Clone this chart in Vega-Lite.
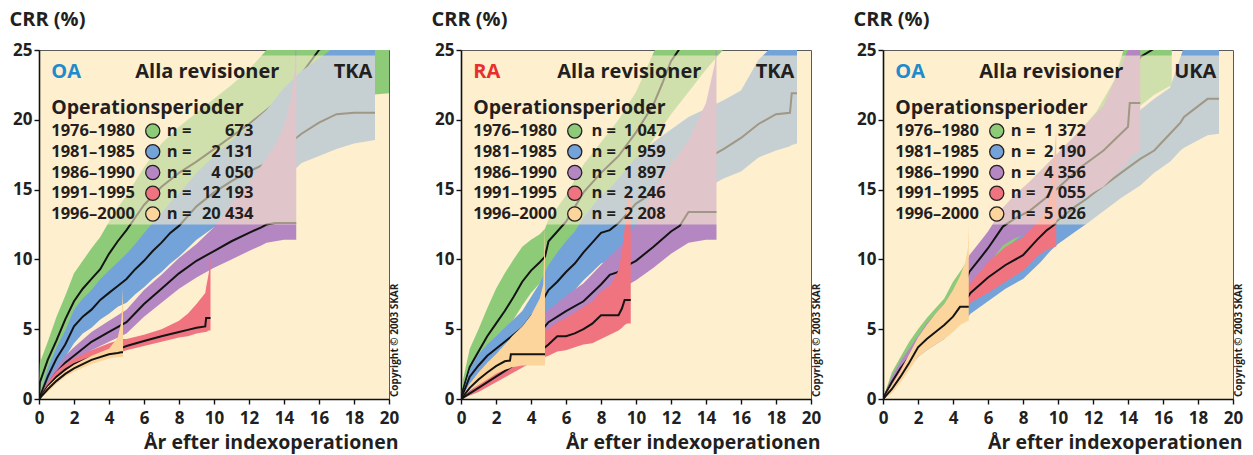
{
"$schema":"https://vega.github.io/schema/vega-lite/v6.json",
"background":"white",
"padding":{"left":8,"top":8,"right":4,"bottom":3},
"spacing":29,
"config":{
 "font":"Open Sans",
 "view":{"stroke":"#5a5a5a","strokeWidth":1,"fill":"#FEEFCF"},
 "axis":{"grid":false,"domainColor":"#111","domainWidth":1.6,"tickColor":"#111","tickWidth":1.4,"tickSize":5,"labelFont":"Open Sans","labelFontSize":17,"labelFontWeight":"bold","labelColor":"#231F20","labelFlush":false,"titleFont":"Open Sans","titleFontSize":19.5,"titleFontWeight":"bold","titleColor":"#231F20"},
 "axisX":{"labelPadding":6,"titleAlign":"right","titleBaseline":"middle","titleX":359,"titleY":43,"titleAngle":0},
 "axisY":{"labelPadding":2,"titleAngle":0,"titleAlign":"left","titleBaseline":"middle","titleX":-30,"titleY":-31,"titleFontSize":20}
},
"datasets":{
"leg":[
{"p":1,"s":"1976–1980","n":"673"},{"p":1,"s":"1981–1985","n":"2 131"},{"p":1,"s":"1986–1990","n":"4 050"},{"p":1,"s":"1991–1995","n":"12 193"},{"p":1,"s":"1996–2000","n":"20 434"},
{"p":2,"s":"1976–1980","n":"1 047"},{"p":2,"s":"1981–1985","n":"1 959"},{"p":2,"s":"1986–1990","n":"1 897"},{"p":2,"s":"1991–1995","n":"2 246"},{"p":2,"s":"1996–2000","n":"2 208"},
{"p":3,"s":"1976–1980","n":"1 372"},{"p":3,"s":"1981–1985","n":"2 190"},{"p":3,"s":"1986–1990","n":"4 356"},{"p":3,"s":"1991–1995","n":"7 055"},{"p":3,"s":"1996–2000","n":"5 026"}
],
"d":[
{"p":1,"s":"G","x":0,"lo":0,"y":0,"hi":0},{"p":1,"s":"G","x":0.05,"lo":0.3,"y":1.2,"hi":2.6},{"p":1,"s":"G","x":0.5,"lo":1.3,"y":2.8,"hi":4.1},{"p":1,"s":"G","x":1,"lo":2.5,"y":4.2,"hi":5.9},{"p":1,"s":"G","x":1.5,"lo":3.8,"y":5.7,"hi":7.4},{"p":1,"s":"G","x":2,"lo":4.8,"y":7.0,"hi":9.0},{"p":1,"s":"G","x":2.5,"lo":5.6,"y":7.9,"hi":9.9},{"p":1,"s":"G","x":3,"lo":6.3,"y":8.6,"hi":10.8},{"p":1,"s":"G","x":3.5,"lo":7.0,"y":9.3,"hi":11.6},{"p":1,"s":"G","x":4,"lo":7.9,"y":10.4,"hi":12.7},{"p":1,"s":"G","x":4.5,"lo":8.7,"y":11.3,"hi":13.7},{"p":1,"s":"G","x":5,"lo":9.4,"y":12.1,"hi":14.6},{"p":1,"s":"G","x":5.5,"lo":10.2,"y":13.0,"hi":15.6},{"p":1,"s":"G","x":6,"lo":11.0,"y":13.9,"hi":16.6},{"p":1,"s":"G","x":7,"lo":12.2,"y":15.2,"hi":18.3},{"p":1,"s":"G","x":8,"lo":13.2,"y":16.2,"hi":19.5},{"p":1,"s":"G","x":9,"lo":14.0,"y":17.0,"hi":20.5},{"p":1,"s":"G","x":10,"lo":14.7,"y":17.9,"hi":21.5},{"p":1,"s":"G","x":11,"lo":15.4,"y":18.8,"hi":22.5},{"p":1,"s":"G","x":12,"lo":16.0,"y":19.7,"hi":23.6},{"p":1,"s":"G","x":13,"lo":16.8,"y":20.7,"hi":25.0},{"p":1,"s":"G","x":14,"lo":17.6,"y":21.8,"hi":26.5},{"p":1,"s":"G","x":15,"lo":18.8,"y":23.3,"hi":28},{"p":1,"s":"G","x":16,"lo":20.3,"y":25.0,"hi":30},{"p":1,"s":"G","x":17,"lo":21.0,"y":25.8,"hi":31},{"p":1,"s":"G","x":18,"lo":21.5,"y":26.3,"hi":31},{"p":1,"s":"G","x":19,"lo":21.8,"y":26.8,"hi":32},{"p":1,"s":"G","x":20,"lo":21.9,"y":27.2,"hi":32},
{"p":1,"s":"B","x":0,"lo":0,"y":0,"hi":0},{"p":1,"s":"B","x":0.5,"lo":1.0,"y":1.6,"hi":2.2},{"p":1,"s":"B","x":1,"lo":2.1,"y":2.9,"hi":3.7},{"p":1,"s":"B","x":1.5,"lo":3.0,"y":3.9,"hi":4.9},{"p":1,"s":"B","x":2,"lo":4.0,"y":5.2,"hi":6.4},{"p":1,"s":"B","x":2.5,"lo":4.7,"y":5.9,"hi":7.2},{"p":1,"s":"B","x":3,"lo":5.1,"y":6.4,"hi":7.8},{"p":1,"s":"B","x":3.5,"lo":5.7,"y":7.1,"hi":8.6},{"p":1,"s":"B","x":4,"lo":6.1,"y":7.6,"hi":9.2},{"p":1,"s":"B","x":4.5,"lo":6.6,"y":8.1,"hi":9.8},{"p":1,"s":"B","x":5,"lo":6.9,"y":8.6,"hi":10.4},{"p":1,"s":"B","x":5.5,"lo":7.5,"y":9.3,"hi":11.1},{"p":1,"s":"B","x":6,"lo":8.0,"y":9.9,"hi":11.9},{"p":1,"s":"B","x":6.5,"lo":8.6,"y":10.6,"hi":12.6},{"p":1,"s":"B","x":7,"lo":9.1,"y":11.2,"hi":13.3},{"p":1,"s":"B","x":7.5,"lo":9.7,"y":11.9,"hi":14.1},{"p":1,"s":"B","x":8,"lo":10.2,"y":12.4,"hi":14.7},{"p":1,"s":"B","x":9,"lo":11.4,"y":13.8,"hi":16.2},{"p":1,"s":"B","x":10,"lo":12.3,"y":14.8,"hi":17.4},{"p":1,"s":"B","x":11,"lo":13.0,"y":15.6,"hi":18.5},{"p":1,"s":"B","x":12,"lo":13.7,"y":16.3,"hi":19.6},{"p":1,"s":"B","x":13,"lo":14.6,"y":16.9,"hi":20.7},{"p":1,"s":"B","x":14,"lo":15.7,"y":18.0,"hi":22.3},{"p":1,"s":"B","x":15,"lo":16.9,"y":19.0,"hi":23.5},{"p":1,"s":"B","x":16,"lo":17.4,"y":19.8,"hi":24.4},{"p":1,"s":"B","x":17,"lo":17.9,"y":20.4,"hi":25.3},{"p":1,"s":"B","x":18,"lo":18.3,"y":20.5,"hi":25.8},{"p":1,"s":"B","x":19.2,"lo":18.55,"y":20.5,"hi":26},
{"p":1,"s":"P","x":0,"lo":0,"y":0,"hi":0},{"p":1,"s":"P","x":0.5,"lo":0.7,"y":1.0,"hi":1.3},{"p":1,"s":"P","x":1,"lo":1.5,"y":1.9,"hi":2.3},{"p":1,"s":"P","x":1.5,"lo":2.1,"y":2.6,"hi":3.1},{"p":1,"s":"P","x":2,"lo":2.6,"y":3.1,"hi":3.7},{"p":1,"s":"P","x":3,"lo":3.5,"y":4.1,"hi":4.8},{"p":1,"s":"P","x":4,"lo":4.1,"y":4.8,"hi":5.6},{"p":1,"s":"P","x":5,"lo":4.7,"y":5.5,"hi":6.4},{"p":1,"s":"P","x":6,"lo":5.9,"y":6.8,"hi":7.8},{"p":1,"s":"P","x":7,"lo":6.9,"y":7.9,"hi":8.9},{"p":1,"s":"P","x":8,"lo":7.9,"y":9.0,"hi":10.1},{"p":1,"s":"P","x":9,"lo":8.7,"y":9.9,"hi":11.1},{"p":1,"s":"P","x":10,"lo":9.4,"y":10.6,"hi":12.3},{"p":1,"s":"P","x":11,"lo":10.0,"y":11.3,"hi":14.0},{"p":1,"s":"P","x":12,"lo":10.6,"y":11.9,"hi":15.5},{"p":1,"s":"P","x":12.7,"lo":11.0,"y":12.3,"hi":16.7},{"p":1,"s":"P","x":13,"lo":11.2,"y":12.5,"hi":17.3},{"p":1,"s":"P","x":13.5,"lo":11.3,"y":12.6,"hi":18.2},{"p":1,"s":"P","x":14,"lo":11.4,"y":12.6,"hi":19.5},{"p":1,"s":"P","x":14.4,"lo":11.4,"y":12.6,"hi":21.5},{"p":1,"s":"P","x":14.6,"lo":11.4,"y":12.6,"hi":23.5},{"p":1,"s":"P","x":14.7,"lo":11.4,"y":12.6,"hi":26},
{"p":1,"s":"R","x":0,"lo":0,"y":0,"hi":0},{"p":1,"s":"R","x":0.5,"lo":0.6,"y":0.9,"hi":1.2},{"p":1,"s":"R","x":1,"lo":1.3,"y":1.6,"hi":2.0},{"p":1,"s":"R","x":1.5,"lo":1.8,"y":2.1,"hi":2.5},{"p":1,"s":"R","x":2,"lo":2.2,"y":2.5,"hi":2.9},{"p":1,"s":"R","x":3,"lo":2.7,"y":3.0,"hi":3.5},{"p":1,"s":"R","x":4,"lo":3.1,"y":3.4,"hi":4.0},{"p":1,"s":"R","x":4.8,"lo":3.4,"y":3.7,"hi":4.3},{"p":1,"s":"R","x":5,"lo":3.5,"y":3.8,"hi":4.3},{"p":1,"s":"R","x":6,"lo":3.8,"y":4.15,"hi":4.6},{"p":1,"s":"R","x":7,"lo":4.1,"y":4.5,"hi":5.0},{"p":1,"s":"R","x":8,"lo":4.4,"y":4.8,"hi":5.6},{"p":1,"s":"R","x":8.5,"lo":4.5,"y":4.95,"hi":6.1},{"p":1,"s":"R","x":9,"lo":4.7,"y":5.1,"hi":6.8},{"p":1,"s":"R","x":9.5,"lo":4.8,"y":5.2,"hi":7.6},{"p":1,"s":"R","x":9.55,"lo":4.8,"y":5.8,"hi":8.0},{"p":1,"s":"R","x":9.7,"lo":4.9,"y":5.8,"hi":9.0},{"p":1,"s":"R","x":9.8,"lo":4.9,"y":5.8,"hi":10.2},
{"p":1,"s":"O","x":0,"lo":0,"y":0,"hi":0},{"p":1,"s":"O","x":0.5,"lo":0.5,"y":0.7,"hi":0.9},{"p":1,"s":"O","x":1,"lo":1.1,"y":1.3,"hi":1.5},{"p":1,"s":"O","x":1.5,"lo":1.6,"y":1.8,"hi":2.0},{"p":1,"s":"O","x":2,"lo":1.95,"y":2.2,"hi":2.45},{"p":1,"s":"O","x":3,"lo":2.5,"y":2.8,"hi":3.1},{"p":1,"s":"O","x":4,"lo":2.9,"y":3.2,"hi":3.6},{"p":1,"s":"O","x":4.5,"lo":3.0,"y":3.3,"hi":4.4},{"p":1,"s":"O","x":4.7,"lo":3.0,"y":3.35,"hi":5.5},{"p":1,"s":"O","x":4.8,"lo":3.0,"y":3.35,"hi":7.9},
{"p":2,"s":"G","x":0,"lo":0,"y":0,"hi":0},{"p":2,"s":"G","x":0.1,"lo":0.1,"y":0.6,"hi":1.3},{"p":2,"s":"G","x":0.5,"lo":1.2,"y":2.3,"hi":3.6},{"p":2,"s":"G","x":1,"lo":2.2,"y":3.4,"hi":5.0},{"p":2,"s":"G","x":1.5,"lo":3.1,"y":4.5,"hi":6.5},{"p":2,"s":"G","x":2,"lo":4.0,"y":5.4,"hi":7.9},{"p":2,"s":"G","x":2.5,"lo":4.8,"y":6.3,"hi":9.0},{"p":2,"s":"G","x":3,"lo":5.7,"y":7.3,"hi":10.0},{"p":2,"s":"G","x":3.5,"lo":6.7,"y":8.4,"hi":10.9},{"p":2,"s":"G","x":4,"lo":7.6,"y":9.2,"hi":11.4},{"p":2,"s":"G","x":4.5,"lo":8.3,"y":9.8,"hi":11.8},{"p":2,"s":"G","x":4.8,"lo":8.6,"y":10.2,"hi":12.2},{"p":2,"s":"G","x":5,"lo":9.4,"y":11.3,"hi":12.9},{"p":2,"s":"G","x":5.5,"lo":10.1,"y":12.0,"hi":13.7},{"p":2,"s":"G","x":6,"lo":10.8,"y":12.7,"hi":14.6},{"p":2,"s":"G","x":7,"lo":12.3,"y":14.8,"hi":16.8},{"p":2,"s":"G","x":8,"lo":13.8,"y":16.2,"hi":18.4},{"p":2,"s":"G","x":9,"lo":15.2,"y":17.4,"hi":20.0},{"p":2,"s":"G","x":10,"lo":16.8,"y":19.1,"hi":22.0},{"p":2,"s":"G","x":11,"lo":18.6,"y":21.1,"hi":24.8},{"p":2,"s":"G","x":11.5,"lo":19.5,"y":22.6,"hi":26},{"p":2,"s":"G","x":12,"lo":20.4,"y":24.2,"hi":27},{"p":2,"s":"G","x":13,"lo":22.0,"y":26,"hi":29},{"p":2,"s":"G","x":14,"lo":23.6,"y":27,"hi":30},{"p":2,"s":"G","x":15.1,"lo":25.2,"y":28,"hi":31},
{"p":2,"s":"B","x":0,"lo":0,"y":0,"hi":0},{"p":2,"s":"B","x":0.5,"lo":1.1,"y":1.6,"hi":2.1},{"p":2,"s":"B","x":1,"lo":1.7,"y":2.4,"hi":3.2},{"p":2,"s":"B","x":1.5,"lo":2.3,"y":3.1,"hi":3.9},{"p":2,"s":"B","x":2,"lo":2.8,"y":3.6,"hi":4.5},{"p":2,"s":"B","x":2.5,"lo":3.3,"y":4.1,"hi":5.1},{"p":2,"s":"B","x":3,"lo":3.7,"y":4.6,"hi":5.7},{"p":2,"s":"B","x":3.5,"lo":4.1,"y":5.1,"hi":6.3},{"p":2,"s":"B","x":4,"lo":4.7,"y":5.9,"hi":7.3},{"p":2,"s":"B","x":4.5,"lo":5.3,"y":6.7,"hi":8.3},{"p":2,"s":"B","x":5,"lo":6.2,"y":7.8,"hi":9.6},{"p":2,"s":"B","x":5.5,"lo":6.7,"y":8.4,"hi":10.5},{"p":2,"s":"B","x":6,"lo":7.3,"y":9.1,"hi":11.3},{"p":2,"s":"B","x":6.5,"lo":7.8,"y":9.7,"hi":12.0},{"p":2,"s":"B","x":7,"lo":8.5,"y":10.5,"hi":13.0},{"p":2,"s":"B","x":7.5,"lo":9.1,"y":11.2,"hi":13.8},{"p":2,"s":"B","x":8,"lo":9.7,"y":11.9,"hi":14.6},{"p":2,"s":"B","x":8.5,"lo":9.9,"y":12.1,"hi":15.1},{"p":2,"s":"B","x":9,"lo":10.3,"y":12.6,"hi":15.8},{"p":2,"s":"B","x":10,"lo":11.5,"y":14.0,"hi":17.3},{"p":2,"s":"B","x":11,"lo":12.2,"y":14.8,"hi":18.4},{"p":2,"s":"B","x":12,"lo":13.0,"y":15.6,"hi":19.3},{"p":2,"s":"B","x":13,"lo":13.9,"y":16.5,"hi":20.2},{"p":2,"s":"B","x":14,"lo":15.1,"y":17.2,"hi":20.8},{"p":2,"s":"B","x":15,"lo":15.8,"y":17.9,"hi":21.4},{"p":2,"s":"B","x":16,"lo":16.3,"y":18.7,"hi":22.1},{"p":2,"s":"B","x":17,"lo":17.3,"y":19.7,"hi":24.3},{"p":2,"s":"B","x":18,"lo":17.8,"y":20.4,"hi":25.5},{"p":2,"s":"B","x":18.8,"lo":18.1,"y":20.5,"hi":26},{"p":2,"s":"B","x":18.9,"lo":18.2,"y":21.9,"hi":27},{"p":2,"s":"B","x":19.2,"lo":18.3,"y":21.9,"hi":27},
{"p":2,"s":"P","x":0,"lo":0,"y":0,"hi":0},{"p":2,"s":"P","x":1,"lo":0.6,"y":0.9,"hi":1.2},{"p":2,"s":"P","x":2,"lo":1.5,"y":1.9,"hi":2.4},{"p":2,"s":"P","x":3,"lo":2.4,"y":2.9,"hi":3.5},{"p":2,"s":"P","x":4,"lo":3.3,"y":4.0,"hi":4.8},{"p":2,"s":"P","x":4.8,"lo":4.5,"y":5.2,"hi":6.2},{"p":2,"s":"P","x":5,"lo":4.8,"y":5.5,"hi":6.4},{"p":2,"s":"P","x":6,"lo":5.3,"y":6.3,"hi":7.4},{"p":2,"s":"P","x":7,"lo":5.9,"y":7.0,"hi":8.3},{"p":2,"s":"P","x":8,"lo":6.9,"y":8.2,"hi":9.6},{"p":2,"s":"P","x":8.5,"lo":7.5,"y":8.9,"hi":10.2},{"p":2,"s":"P","x":9,"lo":7.7,"y":9.1,"hi":10.8},{"p":2,"s":"P","x":9.7,"lo":8.3,"y":9.7,"hi":12.0},{"p":2,"s":"P","x":10,"lo":8.5,"y":9.9,"hi":12.5},{"p":2,"s":"P","x":11,"lo":9.4,"y":10.9,"hi":15.0},{"p":2,"s":"P","x":12,"lo":10.4,"y":12.0,"hi":16.8},{"p":2,"s":"P","x":12.5,"lo":10.8,"y":12.4,"hi":17.6},{"p":2,"s":"P","x":13,"lo":11.2,"y":13.4,"hi":18.5},{"p":2,"s":"P","x":14,"lo":11.4,"y":13.4,"hi":21.2},{"p":2,"s":"P","x":14.5,"lo":11.4,"y":13.4,"hi":24.0},{"p":2,"s":"P","x":14.6,"lo":11.4,"y":13.4,"hi":25.5},
{"p":2,"s":"R","x":0,"lo":0,"y":0,"hi":0},{"p":2,"s":"R","x":1,"lo":0.5,"y":0.8,"hi":1.1},{"p":2,"s":"R","x":2,"lo":1.2,"y":1.6,"hi":2.1},{"p":2,"s":"R","x":3,"lo":1.9,"y":2.4,"hi":3.0},{"p":2,"s":"R","x":4,"lo":2.6,"y":3.2,"hi":3.9},{"p":2,"s":"R","x":4.8,"lo":3.0,"y":3.7,"hi":4.9},{"p":2,"s":"R","x":5,"lo":3.1,"y":3.9,"hi":5.0},{"p":2,"s":"R","x":5.5,"lo":3.4,"y":4.5,"hi":5.5},{"p":2,"s":"R","x":6,"lo":3.5,"y":4.5,"hi":5.8},{"p":2,"s":"R","x":6.5,"lo":3.7,"y":4.7,"hi":6.2},{"p":2,"s":"R","x":7,"lo":3.9,"y":5.0,"hi":6.6},{"p":2,"s":"R","x":7.5,"lo":4.0,"y":5.4,"hi":7.0},{"p":2,"s":"R","x":8,"lo":4.3,"y":6.0,"hi":7.7},{"p":2,"s":"R","x":8.5,"lo":4.6,"y":6.0,"hi":8.1},{"p":2,"s":"R","x":9,"lo":4.9,"y":6.0,"hi":9.2},{"p":2,"s":"R","x":9.2,"lo":5.1,"y":6.5,"hi":10.5},{"p":2,"s":"R","x":9.35,"lo":5.3,"y":7.1,"hi":12.2},{"p":2,"s":"R","x":9.5,"lo":5.4,"y":7.1,"hi":14.0},{"p":2,"s":"R","x":9.7,"lo":5.4,"y":7.1,"hi":15.0},
{"p":2,"s":"O","x":0,"lo":0,"y":0,"hi":0},{"p":2,"s":"O","x":0.5,"lo":0.6,"y":0.8,"hi":1.1},{"p":2,"s":"O","x":1,"lo":1.0,"y":1.4,"hi":1.9},{"p":2,"s":"O","x":1.5,"lo":1.4,"y":1.9,"hi":2.6},{"p":2,"s":"O","x":2,"lo":1.8,"y":2.35,"hi":3.2},{"p":2,"s":"O","x":2.5,"lo":2.1,"y":2.7,"hi":3.9},{"p":2,"s":"O","x":2.8,"lo":2.2,"y":2.75,"hi":4.3},{"p":2,"s":"O","x":2.85,"lo":2.25,"y":3.2,"hi":4.4},{"p":2,"s":"O","x":3,"lo":2.3,"y":3.2,"hi":4.6},{"p":2,"s":"O","x":3.5,"lo":2.4,"y":3.2,"hi":5.2},{"p":2,"s":"O","x":4,"lo":2.4,"y":3.2,"hi":6.0},{"p":2,"s":"O","x":4.5,"lo":2.4,"y":3.2,"hi":7.2},{"p":2,"s":"O","x":4.7,"lo":2.4,"y":3.2,"hi":8.2},{"p":2,"s":"O","x":4.8,"lo":2.4,"y":3.2,"hi":12.5},
{"p":3,"s":"G","x":0,"lo":0,"y":0,"hi":0},{"p":3,"s":"G","x":0.5,"lo":0.7,"y":1.3,"hi":1.9},{"p":3,"s":"G","x":1,"lo":1.5,"y":2.3,"hi":3.0},{"p":3,"s":"G","x":1.5,"lo":2.3,"y":3.2,"hi":4.1},{"p":3,"s":"G","x":2,"lo":3.0,"y":4.0,"hi":5.0},{"p":3,"s":"G","x":2.5,"lo":3.8,"y":4.8,"hi":5.8},{"p":3,"s":"G","x":3,"lo":4.5,"y":5.5,"hi":6.5},{"p":3,"s":"G","x":3.5,"lo":5.0,"y":6.0,"hi":7.2},{"p":3,"s":"G","x":4,"lo":5.8,"y":6.9,"hi":8.4},{"p":3,"s":"G","x":4.5,"lo":6.7,"y":7.9,"hi":9.3},{"p":3,"s":"G","x":4.9,"lo":7.5,"y":8.9,"hi":10.1},{"p":3,"s":"G","x":5.5,"lo":8.3,"y":9.8,"hi":10.9},{"p":3,"s":"G","x":6,"lo":8.9,"y":10.5,"hi":11.8},{"p":3,"s":"G","x":6.5,"lo":9.4,"y":11.2,"hi":12.6},{"p":3,"s":"G","x":7,"lo":10.0,"y":11.9,"hi":13.5},{"p":3,"s":"G","x":7.65,"lo":10.8,"y":12.5,"hi":14.5},{"p":3,"s":"G","x":8.8,"lo":12.3,"y":14.2,"hi":16.1},{"p":3,"s":"G","x":10,"lo":13.6,"y":15.6,"hi":17.6},{"p":3,"s":"G","x":10.7,"lo":14.2,"y":16.3,"hi":18.4},{"p":3,"s":"G","x":12.2,"lo":16.0,"y":18.2,"hi":20.6},{"p":3,"s":"G","x":13.2,"lo":18.0,"y":20.5,"hi":22.8},{"p":3,"s":"G","x":14,"lo":19.8,"y":22.6,"hi":26},{"p":3,"s":"G","x":14.7,"lo":21.0,"y":24.5,"hi":27},{"p":3,"s":"G","x":15.5,"lo":21.8,"y":25.1,"hi":28},{"p":3,"s":"G","x":16.5,"lo":22.5,"y":25.6,"hi":29},
{"p":3,"s":"B","x":0,"lo":0,"y":0,"hi":0},{"p":3,"s":"B","x":0.5,"lo":0.6,"y":0.9,"hi":1.2},{"p":3,"s":"B","x":1,"lo":1.4,"y":1.9,"hi":2.4},{"p":3,"s":"B","x":1.5,"lo":2.3,"y":2.9,"hi":3.5},{"p":3,"s":"B","x":2,"lo":3.0,"y":3.8,"hi":4.5},{"p":3,"s":"B","x":2.5,"lo":3.5,"y":4.3,"hi":5.1},{"p":3,"s":"B","x":3,"lo":3.9,"y":4.8,"hi":5.7},{"p":3,"s":"B","x":3.5,"lo":4.3,"y":5.3,"hi":6.3},{"p":3,"s":"B","x":4,"lo":4.9,"y":6.0,"hi":7.1},{"p":3,"s":"B","x":4.8,"lo":5.8,"y":7.0,"hi":8.2},{"p":3,"s":"B","x":5,"lo":6.1,"y":7.4,"hi":8.6},{"p":3,"s":"B","x":6,"lo":7.0,"y":8.4,"hi":9.7},{"p":3,"s":"B","x":7,"lo":7.9,"y":9.4,"hi":10.8},{"p":3,"s":"B","x":8,"lo":8.6,"y":10.2,"hi":11.8},{"p":3,"s":"B","x":9,"lo":9.8,"y":11.5,"hi":13.2},{"p":3,"s":"B","x":9.56,"lo":10.6,"y":12.3,"hi":14.1},{"p":3,"s":"B","x":10,"lo":11.1,"y":12.8,"hi":14.6},{"p":3,"s":"B","x":11,"lo":12.0,"y":13.8,"hi":15.8},{"p":3,"s":"B","x":11.7,"lo":12.6,"y":14.4,"hi":16.6},{"p":3,"s":"B","x":12,"lo":12.9,"y":14.7,"hi":17.0},{"p":3,"s":"B","x":13.6,"lo":14.4,"y":16.2,"hi":19.0},{"p":3,"s":"B","x":14.7,"lo":15.3,"y":17.2,"hi":20.7},{"p":3,"s":"B","x":15.5,"lo":16.2,"y":17.8,"hi":21.5},{"p":3,"s":"B","x":16.4,"lo":17.0,"y":19.0,"hi":22.3},{"p":3,"s":"B","x":17,"lo":17.8,"y":19.8,"hi":24.5},{"p":3,"s":"B","x":17.2,"lo":18.0,"y":20.2,"hi":25.2},{"p":3,"s":"B","x":18.55,"lo":18.9,"y":21.5,"hi":26.5},{"p":3,"s":"B","x":19.2,"lo":19.0,"y":21.5,"hi":27},
{"p":3,"s":"P","x":0,"lo":0,"y":0,"hi":0},{"p":3,"s":"P","x":0.5,"lo":0.8,"y":1.2,"hi":1.6},{"p":3,"s":"P","x":1,"lo":1.7,"y":2.2,"hi":2.7},{"p":3,"s":"P","x":1.5,"lo":2.4,"y":3.0,"hi":3.6},{"p":3,"s":"P","x":2,"lo":3.1,"y":3.8,"hi":4.5},{"p":3,"s":"P","x":2.5,"lo":3.8,"y":4.6,"hi":5.4},{"p":3,"s":"P","x":3,"lo":4.4,"y":5.3,"hi":6.1},{"p":3,"s":"P","x":3.5,"lo":4.9,"y":5.8,"hi":6.8},{"p":3,"s":"P","x":4,"lo":5.6,"y":6.7,"hi":7.8},{"p":3,"s":"P","x":4.5,"lo":6.5,"y":7.7,"hi":8.8},{"p":3,"s":"P","x":4.93,"lo":8.1,"y":9.1,"hi":10.3},{"p":3,"s":"P","x":5.5,"lo":8.8,"y":10.0,"hi":11.2},{"p":3,"s":"P","x":6,"lo":9.6,"y":10.8,"hi":12.0},{"p":3,"s":"P","x":6.85,"lo":11.0,"y":12.35,"hi":13.7},{"p":3,"s":"P","x":7.5,"lo":11.5,"y":12.9,"hi":14.6},{"p":3,"s":"P","x":8.4,"lo":11.9,"y":13.5,"hi":15.6},{"p":3,"s":"P","x":9.9,"lo":13.0,"y":15.0,"hi":17.5},{"p":3,"s":"P","x":11.3,"lo":14.3,"y":16.6,"hi":19.3},{"p":3,"s":"P","x":12.6,"lo":15.2,"y":17.8,"hi":21.0},{"p":3,"s":"P","x":14,"lo":17.0,"y":19.5,"hi":25},{"p":3,"s":"P","x":14.1,"lo":17.3,"y":21.2,"hi":26},{"p":3,"s":"P","x":14.7,"lo":17.8,"y":21.2,"hi":27},
{"p":3,"s":"R","x":0,"lo":0,"y":0,"hi":0},{"p":3,"s":"R","x":0.5,"lo":0.6,"y":0.8,"hi":1.0},{"p":3,"s":"R","x":1,"lo":1.5,"y":1.8,"hi":2.1},{"p":3,"s":"R","x":1.5,"lo":2.4,"y":2.8,"hi":3.2},{"p":3,"s":"R","x":2,"lo":3.2,"y":3.6,"hi":4.0},{"p":3,"s":"R","x":2.5,"lo":3.8,"y":4.2,"hi":4.7},{"p":3,"s":"R","x":3,"lo":4.4,"y":4.9,"hi":5.4},{"p":3,"s":"R","x":3.5,"lo":5.0,"y":5.5,"hi":6.1},{"p":3,"s":"R","x":4,"lo":5.6,"y":6.2,"hi":6.8},{"p":3,"s":"R","x":4.8,"lo":6.6,"y":7.2,"hi":7.9},{"p":3,"s":"R","x":5,"lo":6.9,"y":7.6,"hi":8.3},{"p":3,"s":"R","x":6,"lo":7.6,"y":8.7,"hi":9.8},{"p":3,"s":"R","x":7,"lo":8.4,"y":9.6,"hi":10.9},{"p":3,"s":"R","x":8,"lo":9.2,"y":10.3,"hi":11.6},{"p":3,"s":"R","x":8.8,"lo":10.2,"y":11.4,"hi":12.6},{"p":3,"s":"R","x":9.37,"lo":10.7,"y":12.1,"hi":13.6},{"p":3,"s":"R","x":9.6,"lo":10.8,"y":12.3,"hi":15.0},{"p":3,"s":"R","x":9.8,"lo":10.9,"y":12.5,"hi":17.5},{"p":3,"s":"R","x":9.9,"lo":10.9,"y":12.6,"hi":19.3},
{"p":3,"s":"O","x":0,"lo":0,"y":0,"hi":0},{"p":3,"s":"O","x":0.5,"lo":0.4,"y":0.7,"hi":1.0},{"p":3,"s":"O","x":1,"lo":1.2,"y":1.6,"hi":2.0},{"p":3,"s":"O","x":1.5,"lo":2.1,"y":2.6,"hi":3.2},{"p":3,"s":"O","x":2,"lo":3.0,"y":3.7,"hi":4.4},{"p":3,"s":"O","x":2.5,"lo":3.5,"y":4.3,"hi":5.3},{"p":3,"s":"O","x":3,"lo":3.9,"y":4.8,"hi":6.1},{"p":3,"s":"O","x":3.5,"lo":4.3,"y":5.3,"hi":6.8},{"p":3,"s":"O","x":4,"lo":4.8,"y":5.9,"hi":7.8},{"p":3,"s":"O","x":4.4,"lo":5.3,"y":6.6,"hi":8.8},{"p":3,"s":"O","x":4.7,"lo":5.5,"y":6.6,"hi":9.8},{"p":3,"s":"O","x":4.85,"lo":5.6,"y":6.6,"hi":10.8},{"p":3,"s":"O","x":4.9,"lo":5.6,"y":6.6,"hi":12.5}
]},
"hconcat":[
{"width":350,"height":349,"resolve":{"scale":{"y":"independent"}},"layer":[
 {"layer":[
  {"data":{"name":"d"},"transform":[{"filter":"datum.p==1&&datum.s=='G'"}],"mark":{"type":"area","color":"#8DCB79","clip":true},"encoding":{"x":{"field":"x","type":"quantitative","scale":{"domain":[0,20],"nice":false},"axis":{"title":"År efter indexoperationen","tickCount":10}},"y":{"field":"lo","type":"quantitative","scale":{"domain":[0,25],"nice":false},"axis":{"title":"CRR (%)","values":[0,5,10,15,20,25]}},"y2":{"field":"hi"}}},
  {"data":{"name":"d"},"transform":[{"filter":"datum.p==1&&datum.s=='G'"}],"mark":{"type":"line","color":"#141414","strokeWidth":2,"clip":true},"encoding":{"x":{"field":"x","type":"quantitative"},"y":{"field":"y","type":"quantitative"}}},
  {"data":{"name":"d"},"transform":[{"filter":"datum.p==1&&datum.s=='B'"}],"mark":{"type":"area","color":"#74A3DA","clip":true},"encoding":{"x":{"field":"x","type":"quantitative"},"y":{"field":"lo","type":"quantitative"},"y2":{"field":"hi"}}},
  {"data":{"name":"d"},"transform":[{"filter":"datum.p==1&&datum.s=='B'"}],"mark":{"type":"line","color":"#141414","strokeWidth":2,"clip":true},"encoding":{"x":{"field":"x","type":"quantitative"},"y":{"field":"y","type":"quantitative"}}},
  {"data":{"name":"d"},"transform":[{"filter":"datum.p==1&&datum.s=='P'"}],"mark":{"type":"area","color":"#B487C2","clip":true},"encoding":{"x":{"field":"x","type":"quantitative"},"y":{"field":"lo","type":"quantitative"},"y2":{"field":"hi"}}},
  {"data":{"name":"d"},"transform":[{"filter":"datum.p==1&&datum.s=='P'"}],"mark":{"type":"line","color":"#141414","strokeWidth":2,"clip":true},"encoding":{"x":{"field":"x","type":"quantitative"},"y":{"field":"y","type":"quantitative"}}},
  {"data":{"name":"d"},"transform":[{"filter":"datum.p==1&&datum.s=='R'"}],"mark":{"type":"area","color":"#F07480","clip":true},"encoding":{"x":{"field":"x","type":"quantitative"},"y":{"field":"lo","type":"quantitative"},"y2":{"field":"hi"}}},
  {"data":{"name":"d"},"transform":[{"filter":"datum.p==1&&datum.s=='R'"}],"mark":{"type":"line","color":"#141414","strokeWidth":2,"clip":true},"encoding":{"x":{"field":"x","type":"quantitative"},"y":{"field":"y","type":"quantitative"}}},
  {"data":{"name":"d"},"transform":[{"filter":"datum.p==1&&datum.s=='O'"}],"mark":{"type":"area","color":"#FCD59C","clip":true},"encoding":{"x":{"field":"x","type":"quantitative"},"y":{"field":"lo","type":"quantitative"},"y2":{"field":"hi"}}},
  {"data":{"name":"d"},"transform":[{"filter":"datum.p==1&&datum.s=='O'"}],"mark":{"type":"line","color":"#141414","strokeWidth":2,"clip":true},"encoding":{"x":{"field":"x","type":"quantitative"},"y":{"field":"y","type":"quantitative"}}},
  {"data":{"values":[{}]},"mark":{"type":"rect","color":"#FEEFCF","opacity":0.6},"encoding":{"x":{"datum":0.3},"x2":{"datum":19.2},"y":{"datum":12.5},"y2":{"datum":24.6}}},
  {"data":{"values":[{}]},"mark":{"type":"text","text":"OA","align":"left","baseline":"middle","fontSize":20,"fontWeight":"bold","color":"#1E8BCD"},"encoding":{"x":{"datum":0.7},"y":{"datum":23.45}}},
  {"data":{"values":[{}]},"mark":{"type":"text","text":"Alla revisioner","align":"left","baseline":"middle","fontSize":20,"fontWeight":"bold","color":"#231F20"},"encoding":{"x":{"datum":5.5},"y":{"datum":23.45}}},
  {"data":{"values":[{}]},"mark":{"type":"text","text":"TKA","align":"right","baseline":"middle","fontSize":20,"fontWeight":"bold","color":"#231F20"},"encoding":{"x":{"datum":19.05},"y":{"datum":23.45}}},
  {"data":{"values":[{}]},"mark":{"type":"text","text":"Operationsperioder","align":"left","baseline":"middle","fontSize":19.5,"fontWeight":"bold","color":"#231F20"},"encoding":{"x":{"datum":0.7},"y":{"datum":20.85}}},
  {"data":{"values":[{}]},"mark":{"type":"text","text":"Copyright © 2003 SKAR","angle":270,"align":"left","baseline":"middle","fontSize":10,"fontWeight":"bold","color":"#231F20","dx":2,"dy":6},"encoding":{"x":{"datum":20},"y":{"datum":0}}}
 ]},
 {"data":{"name":"leg"},"transform":[{"filter":"datum.p==1"}],"encoding":{"y":{"field":"s","type":"ordinal","scale":{"type":"point","domain":["1976–1980","1981–1985","1986–1990","1991–1995","1996–2000"],"range":[81,164],"padding":0},"axis":null}},"layer":[
  {"mark":{"type":"text","align":"left","baseline":"middle","fontSize":16.5,"fontWeight":"bold","color":"#231F20"},"encoding":{"x":{"datum":0.7},"text":{"field":"s"}}},
  {"mark":{"type":"point","shape":"circle","filled":true,"size":200,"stroke":"#231F20","strokeWidth":1.3,"opacity":1},"encoding":{"x":{"datum":6.5},"fill":{"field":"s","type":"nominal","scale":{"domain":["1976–1980","1981–1985","1986–1990","1991–1995","1996–2000"],"range":["#8DCB79","#74A3DA","#B487C2","#F07480","#FCD59C"]},"legend":null}}},
  {"mark":{"type":"text","text":"n =","align":"left","baseline":"middle","fontSize":16.5,"fontWeight":"bold","color":"#231F20"},"encoding":{"x":{"datum":7.3}}},
  {"mark":{"type":"text","align":"right","baseline":"middle","fontSize":16.5,"fontWeight":"bold","color":"#231F20"},"encoding":{"x":{"datum":12.25},"text":{"field":"n"}}}
 ]}
]},
{"width":350,"height":349,"resolve":{"scale":{"y":"independent"}},"layer":[
 {"layer":[
  {"data":{"name":"d"},"transform":[{"filter":"datum.p==2&&datum.s=='G'"}],"mark":{"type":"area","color":"#8DCB79","clip":true},"encoding":{"x":{"field":"x","type":"quantitative","scale":{"domain":[0,20],"nice":false},"axis":{"title":"År efter indexoperationen","tickCount":10}},"y":{"field":"lo","type":"quantitative","scale":{"domain":[0,25],"nice":false},"axis":{"title":"CRR (%)","values":[0,5,10,15,20,25]}},"y2":{"field":"hi"}}},
  {"data":{"name":"d"},"transform":[{"filter":"datum.p==2&&datum.s=='G'"}],"mark":{"type":"line","color":"#141414","strokeWidth":2,"clip":true},"encoding":{"x":{"field":"x","type":"quantitative"},"y":{"field":"y","type":"quantitative"}}},
  {"data":{"name":"d"},"transform":[{"filter":"datum.p==2&&datum.s=='B'"}],"mark":{"type":"area","color":"#74A3DA","clip":true},"encoding":{"x":{"field":"x","type":"quantitative"},"y":{"field":"lo","type":"quantitative"},"y2":{"field":"hi"}}},
  {"data":{"name":"d"},"transform":[{"filter":"datum.p==2&&datum.s=='B'"}],"mark":{"type":"line","color":"#141414","strokeWidth":2,"clip":true},"encoding":{"x":{"field":"x","type":"quantitative"},"y":{"field":"y","type":"quantitative"}}},
  {"data":{"name":"d"},"transform":[{"filter":"datum.p==2&&datum.s=='P'"}],"mark":{"type":"area","color":"#B487C2","clip":true},"encoding":{"x":{"field":"x","type":"quantitative"},"y":{"field":"lo","type":"quantitative"},"y2":{"field":"hi"}}},
  {"data":{"name":"d"},"transform":[{"filter":"datum.p==2&&datum.s=='P'"}],"mark":{"type":"line","color":"#141414","strokeWidth":2,"clip":true},"encoding":{"x":{"field":"x","type":"quantitative"},"y":{"field":"y","type":"quantitative"}}},
  {"data":{"name":"d"},"transform":[{"filter":"datum.p==2&&datum.s=='R'"}],"mark":{"type":"area","color":"#F07480","clip":true},"encoding":{"x":{"field":"x","type":"quantitative"},"y":{"field":"lo","type":"quantitative"},"y2":{"field":"hi"}}},
  {"data":{"name":"d"},"transform":[{"filter":"datum.p==2&&datum.s=='R'"}],"mark":{"type":"line","color":"#141414","strokeWidth":2,"clip":true},"encoding":{"x":{"field":"x","type":"quantitative"},"y":{"field":"y","type":"quantitative"}}},
  {"data":{"name":"d"},"transform":[{"filter":"datum.p==2&&datum.s=='O'"}],"mark":{"type":"area","color":"#FCD59C","clip":true},"encoding":{"x":{"field":"x","type":"quantitative"},"y":{"field":"lo","type":"quantitative"},"y2":{"field":"hi"}}},
  {"data":{"name":"d"},"transform":[{"filter":"datum.p==2&&datum.s=='O'"}],"mark":{"type":"line","color":"#141414","strokeWidth":2,"clip":true},"encoding":{"x":{"field":"x","type":"quantitative"},"y":{"field":"y","type":"quantitative"}}},
  {"data":{"values":[{}]},"mark":{"type":"rect","color":"#FEEFCF","opacity":0.6},"encoding":{"x":{"datum":0.3},"x2":{"datum":19.2},"y":{"datum":12.5},"y2":{"datum":24.6}}},
  {"data":{"values":[{}]},"mark":{"type":"text","text":"RA","align":"left","baseline":"middle","fontSize":20,"fontWeight":"bold","color":"#E62F2E"},"encoding":{"x":{"datum":0.7},"y":{"datum":23.45}}},
  {"data":{"values":[{}]},"mark":{"type":"text","text":"Alla revisioner","align":"left","baseline":"middle","fontSize":20,"fontWeight":"bold","color":"#231F20"},"encoding":{"x":{"datum":5.5},"y":{"datum":23.45}}},
  {"data":{"values":[{}]},"mark":{"type":"text","text":"TKA","align":"right","baseline":"middle","fontSize":20,"fontWeight":"bold","color":"#231F20"},"encoding":{"x":{"datum":19.05},"y":{"datum":23.45}}},
  {"data":{"values":[{}]},"mark":{"type":"text","text":"Operationsperioder","align":"left","baseline":"middle","fontSize":19.5,"fontWeight":"bold","color":"#231F20"},"encoding":{"x":{"datum":0.7},"y":{"datum":20.85}}},
  {"data":{"values":[{}]},"mark":{"type":"text","text":"Copyright © 2003 SKAR","angle":270,"align":"left","baseline":"middle","fontSize":10,"fontWeight":"bold","color":"#231F20","dx":2,"dy":6},"encoding":{"x":{"datum":20},"y":{"datum":0}}}
 ]},
 {"data":{"name":"leg"},"transform":[{"filter":"datum.p==2"}],"encoding":{"y":{"field":"s","type":"ordinal","scale":{"type":"point","domain":["1976–1980","1981–1985","1986–1990","1991–1995","1996–2000"],"range":[81,164],"padding":0},"axis":null}},"layer":[
  {"mark":{"type":"text","align":"left","baseline":"middle","fontSize":16.5,"fontWeight":"bold","color":"#231F20"},"encoding":{"x":{"datum":0.7},"text":{"field":"s"}}},
  {"mark":{"type":"point","shape":"circle","filled":true,"size":200,"stroke":"#231F20","strokeWidth":1.3,"opacity":1},"encoding":{"x":{"datum":6.5},"fill":{"field":"s","type":"nominal","scale":{"domain":["1976–1980","1981–1985","1986–1990","1991–1995","1996–2000"],"range":["#8DCB79","#74A3DA","#B487C2","#F07480","#FCD59C"]},"legend":null}}},
  {"mark":{"type":"text","text":"n =","align":"left","baseline":"middle","fontSize":16.5,"fontWeight":"bold","color":"#231F20"},"encoding":{"x":{"datum":7.45}}},
  {"mark":{"type":"text","align":"right","baseline":"middle","fontSize":16.5,"fontWeight":"bold","color":"#231F20"},"encoding":{"x":{"datum":11.7},"text":{"field":"n"}}}
 ]}
]},
{"width":350,"height":349,"resolve":{"scale":{"y":"independent"}},"layer":[
 {"layer":[
  {"data":{"name":"d"},"transform":[{"filter":"datum.p==3&&datum.s=='G'"}],"mark":{"type":"area","color":"#8DCB79","clip":true},"encoding":{"x":{"field":"x","type":"quantitative","scale":{"domain":[0,20],"nice":false},"axis":{"title":"År efter indexoperationen","tickCount":10}},"y":{"field":"lo","type":"quantitative","scale":{"domain":[0,25],"nice":false},"axis":{"title":"CRR (%)","values":[0,5,10,15,20,25]}},"y2":{"field":"hi"}}},
  {"data":{"name":"d"},"transform":[{"filter":"datum.p==3&&datum.s=='G'"}],"mark":{"type":"line","color":"#141414","strokeWidth":2,"clip":true},"encoding":{"x":{"field":"x","type":"quantitative"},"y":{"field":"y","type":"quantitative"}}},
  {"data":{"name":"d"},"transform":[{"filter":"datum.p==3&&datum.s=='B'"}],"mark":{"type":"area","color":"#74A3DA","clip":true},"encoding":{"x":{"field":"x","type":"quantitative"},"y":{"field":"lo","type":"quantitative"},"y2":{"field":"hi"}}},
  {"data":{"name":"d"},"transform":[{"filter":"datum.p==3&&datum.s=='B'"}],"mark":{"type":"line","color":"#141414","strokeWidth":2,"clip":true},"encoding":{"x":{"field":"x","type":"quantitative"},"y":{"field":"y","type":"quantitative"}}},
  {"data":{"name":"d"},"transform":[{"filter":"datum.p==3&&datum.s=='P'"}],"mark":{"type":"area","color":"#B487C2","clip":true},"encoding":{"x":{"field":"x","type":"quantitative"},"y":{"field":"lo","type":"quantitative"},"y2":{"field":"hi"}}},
  {"data":{"name":"d"},"transform":[{"filter":"datum.p==3&&datum.s=='P'"}],"mark":{"type":"line","color":"#141414","strokeWidth":2,"clip":true},"encoding":{"x":{"field":"x","type":"quantitative"},"y":{"field":"y","type":"quantitative"}}},
  {"data":{"name":"d"},"transform":[{"filter":"datum.p==3&&datum.s=='R'"}],"mark":{"type":"area","color":"#F07480","clip":true},"encoding":{"x":{"field":"x","type":"quantitative"},"y":{"field":"lo","type":"quantitative"},"y2":{"field":"hi"}}},
  {"data":{"name":"d"},"transform":[{"filter":"datum.p==3&&datum.s=='R'"}],"mark":{"type":"line","color":"#141414","strokeWidth":2,"clip":true},"encoding":{"x":{"field":"x","type":"quantitative"},"y":{"field":"y","type":"quantitative"}}},
  {"data":{"name":"d"},"transform":[{"filter":"datum.p==3&&datum.s=='O'"}],"mark":{"type":"area","color":"#FCD59C","clip":true},"encoding":{"x":{"field":"x","type":"quantitative"},"y":{"field":"lo","type":"quantitative"},"y2":{"field":"hi"}}},
  {"data":{"name":"d"},"transform":[{"filter":"datum.p==3&&datum.s=='O'"}],"mark":{"type":"line","color":"#141414","strokeWidth":2,"clip":true},"encoding":{"x":{"field":"x","type":"quantitative"},"y":{"field":"y","type":"quantitative"}}},
  {"data":{"values":[{}]},"mark":{"type":"rect","color":"#FEEFCF","opacity":0.6},"encoding":{"x":{"datum":0.3},"x2":{"datum":19.3},"y":{"datum":12.5},"y2":{"datum":24.6}}},
  {"data":{"values":[{}]},"mark":{"type":"text","text":"OA","align":"left","baseline":"middle","fontSize":20,"fontWeight":"bold","color":"#1E8BCD"},"encoding":{"x":{"datum":0.7},"y":{"datum":23.45}}},
  {"data":{"values":[{}]},"mark":{"type":"text","text":"Alla revisioner","align":"left","baseline":"middle","fontSize":20,"fontWeight":"bold","color":"#231F20"},"encoding":{"x":{"datum":5.5},"y":{"datum":23.45}}},
  {"data":{"values":[{}]},"mark":{"type":"text","text":"UKA","align":"right","baseline":"middle","fontSize":20,"fontWeight":"bold","color":"#231F20"},"encoding":{"x":{"datum":19.05},"y":{"datum":23.45}}},
  {"data":{"values":[{}]},"mark":{"type":"text","text":"Operationsperioder","align":"left","baseline":"middle","fontSize":19.5,"fontWeight":"bold","color":"#231F20"},"encoding":{"x":{"datum":0.7},"y":{"datum":20.85}}},
  {"data":{"values":[{}]},"mark":{"type":"text","text":"Copyright © 2003 SKAR","angle":270,"align":"left","baseline":"middle","fontSize":10,"fontWeight":"bold","color":"#231F20","dx":2,"dy":6},"encoding":{"x":{"datum":20},"y":{"datum":0}}}
 ]},
 {"data":{"name":"leg"},"transform":[{"filter":"datum.p==3"}],"encoding":{"y":{"field":"s","type":"ordinal","scale":{"type":"point","domain":["1976–1980","1981–1985","1986–1990","1991–1995","1996–2000"],"range":[81,164],"padding":0},"axis":null}},"layer":[
  {"mark":{"type":"text","align":"left","baseline":"middle","fontSize":16.5,"fontWeight":"bold","color":"#231F20"},"encoding":{"x":{"datum":0.7},"text":{"field":"s"}}},
  {"mark":{"type":"point","shape":"circle","filled":true,"size":200,"stroke":"#231F20","strokeWidth":1.3,"opacity":1},"encoding":{"x":{"datum":6.5},"fill":{"field":"s","type":"nominal","scale":{"domain":["1976–1980","1981–1985","1986–1990","1991–1995","1996–2000"],"range":["#8DCB79","#74A3DA","#B487C2","#F07480","#FCD59C"]},"legend":null}}},
  {"mark":{"type":"text","text":"n =","align":"left","baseline":"middle","fontSize":16.5,"fontWeight":"bold","color":"#231F20"},"encoding":{"x":{"datum":7.3}}},
  {"mark":{"type":"text","align":"right","baseline":"middle","fontSize":16.5,"fontWeight":"bold","color":"#231F20"},"encoding":{"x":{"datum":11.6},"text":{"field":"n"}}}
 ]}
]}
]
}
